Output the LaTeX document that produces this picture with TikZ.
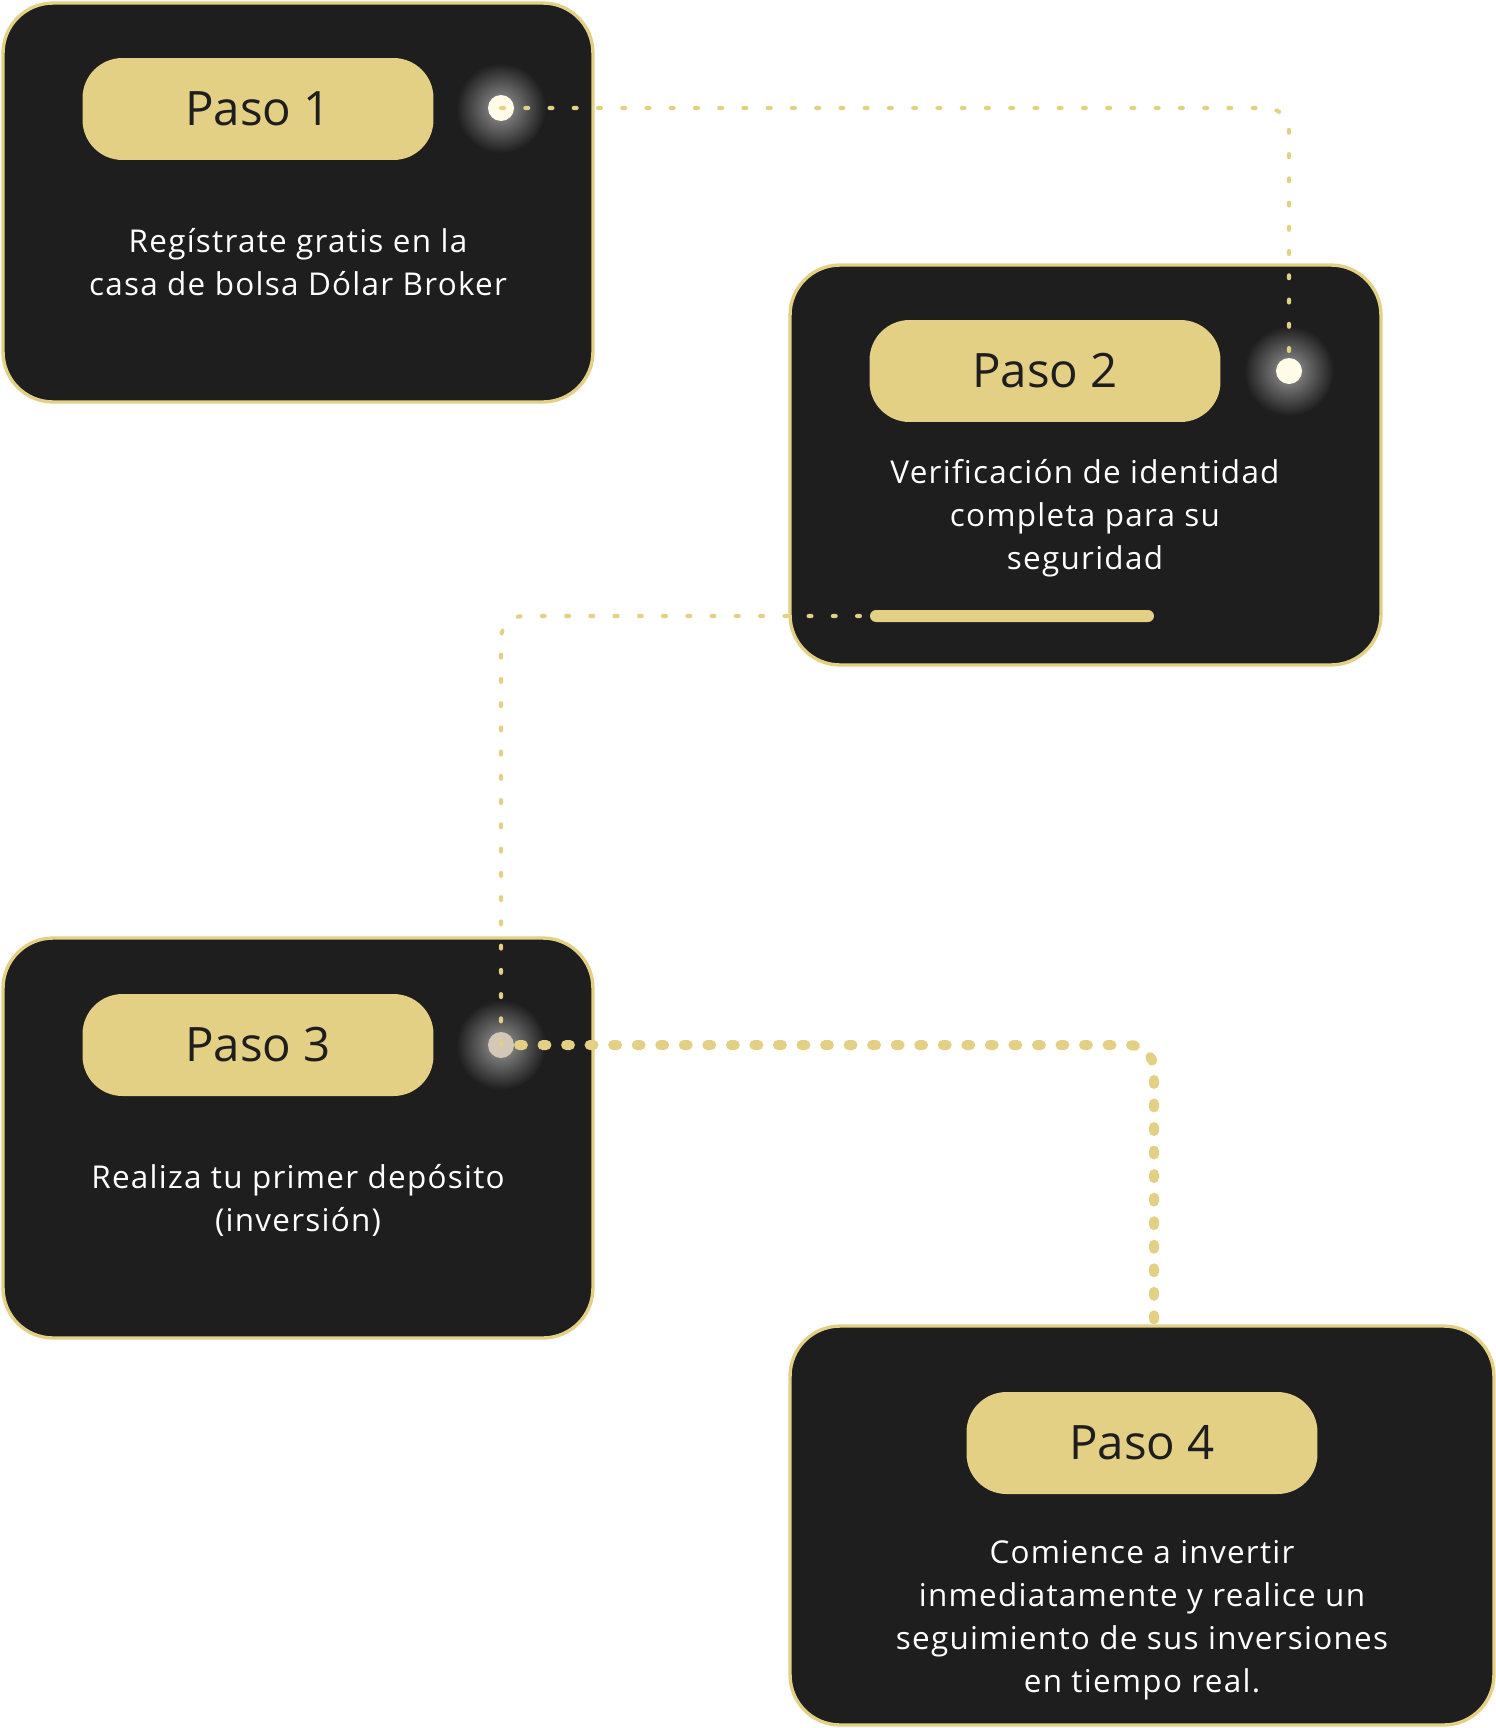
\documentclass[tikz,border=0pt]{standalone}
\usepackage{fontspec}
\setmainfont{Open Sans}[Ligatures=NoCommon, LetterSpace=4]
\newfontfamily\pasofont{Open Sans}[Ligatures=NoCommon]
\definecolor{gold}{HTML}{E3D085}
\definecolor{panel}{HTML}{1E1E1E}
\definecolor{cream}{HTML}{FFFBE6}
\definecolor{greydot}{HTML}{D3C7B6}
\tikzset{
  card/.style={draw=gold, line width=1.9pt, fill=panel, rounded corners=1cm, inner sep=0pt},
  pill/.style={fill=gold, rounded corners=0.8cm, minimum width=7.02cm, minimum height=2.04cm, inner sep=0pt,
    text=panel, font=\pasofont\fontsize{27}{34}\selectfont},
  body/.style={text=white, align=center, font=\fontsize{17.9}{24.4}\selectfont},
  thindots/.style={draw=gold, line width=2.3pt, line cap=round, dash pattern=on 1.7pt off 12.1pt, rounded corners=0.45cm},
  thickdots/.style={draw=gold, line width=5.7pt, line cap=round, dash pattern=on 2.2pt off 11.2pt, rounded corners=0.5cm},
}
\newcommand{\glowhalo}[1]{%
  \shade[inner color=white!55!panel, outer color=panel] (#1) circle (0.9cm);
}
\begin{document}
\begin{tikzpicture}[x=0.02cm, y=-0.02cm]
\useasboundingbox[fill=white] (0,0) rectangle (1496,1728);

% cards
\node[card, minimum width=11.8cm, minimum height=7.98cm] (b1) at (298,202.5) {};
\node[card, minimum width=11.82cm, minimum height=8cm] (b2) at (1085.5,465) {};
\node[card, minimum width=11.8cm, minimum height=8cm] (b3) at (298,1138) {};
\node[card, minimum width=14.08cm, minimum height=7.98cm] (b4) at (1142,1525.5) {};

% dot positions and halos
\coordinate (c1) at (501,108);
\coordinate (c2) at (1289,371);
\coordinate (c3) at (501,1045);
\coordinate (c4) at (1154,1326);
\coordinate (c5) at (860,616);
\coordinate (c6) at (519,1045);
\glowhalo{c1}
\glowhalo{c2}
\glowhalo{c3}

% pills
\node[pill] (p1) at (258,109) {Paso 1};
\node[pill] (p2) at (1045,371) {Paso 2};
\node[pill] (p3) at (258,1045) {Paso 3};
\node[pill] (p4) at (1142,1443) {Paso 4};

% body texts
\node[body] (t1) at (298,262) {Regístrate gratis en la\\casa de bolsa Dólar Broker};
\node[body] (t2) at (1085,518) {Verificación de identidad\\completa para su\\seguridad};
\node[body] (t3) at (298,1200) {Realiza tu primer depósito\\(inversión)};
\node[body] (t4) at (1142,1620) {Comience a invertir\\inmediatamente y realice un\\seguimiento de sus inversiones\\en tiempo real.};

% progress bar
\node[fill=gold, rounded corners=0.12cm, minimum width=5.68cm, minimum height=0.24cm, inner sep=0pt] (bar) at (1012,616) {};

% dots
\node[circle, fill=cream, minimum size=0.52cm, inner sep=0pt] (d1) at (c1) {};
\node[circle, fill=cream, minimum size=0.52cm, inner sep=0pt] (d2) at (c2) {};
\node[circle, fill=greydot, minimum size=0.52cm, inner sep=0pt] (d3) at (c3) {};

% connectors
\draw[thindots] (d1.center) -| (d2.center);
\draw[thindots] (c5) -| (d3.center);
\draw[thickdots] (c6) -| (c4);
\end{tikzpicture}
\end{document}
